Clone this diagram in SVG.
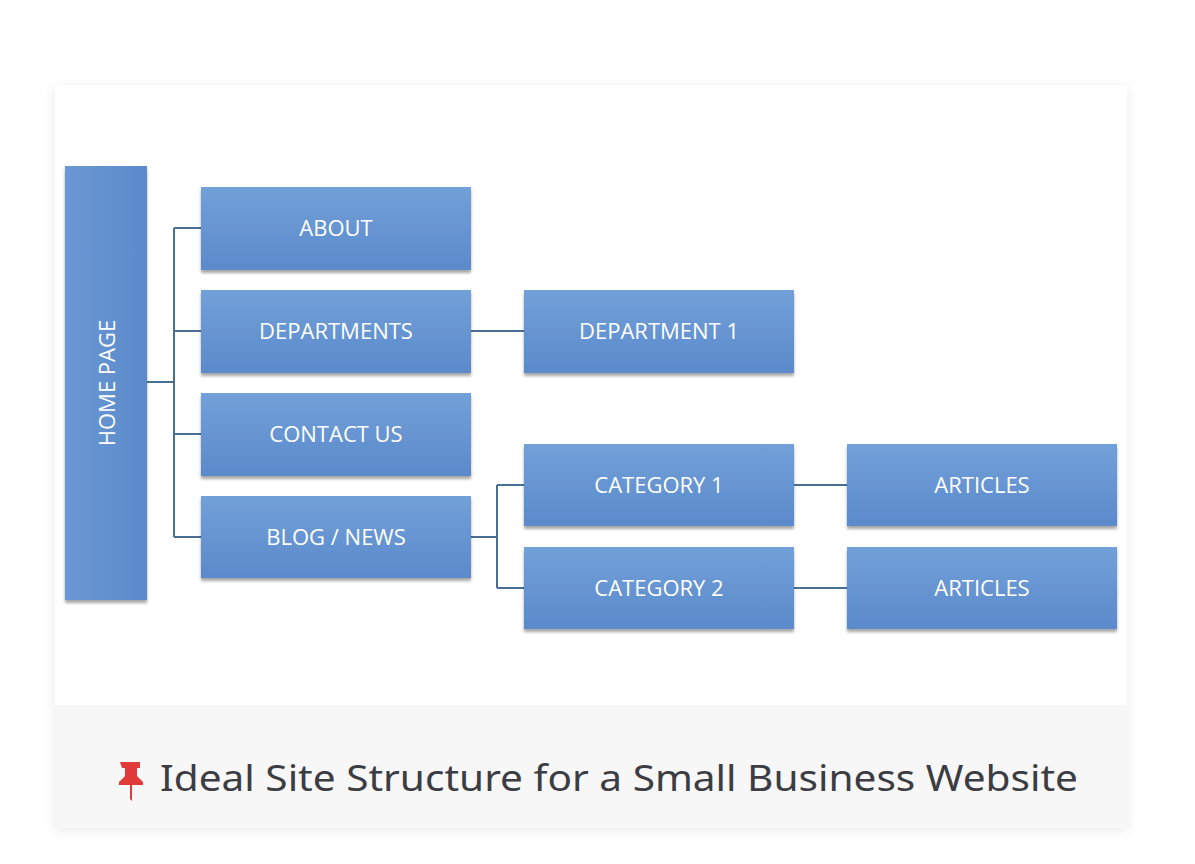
<svg xmlns="http://www.w3.org/2000/svg" width="1195" height="864" viewBox="0 0 1195 864">
<defs>
<linearGradient id="g" x1="0" y1="0" x2="0" y2="1"><stop offset="0" stop-color="#72a0d8"/><stop offset="1" stop-color="#5b8acb"/></linearGradient>
<linearGradient id="gh" x1="0" y1="0" x2="1" y2="0"><stop offset="0" stop-color="#6b98d4"/><stop offset="1" stop-color="#5b8acb"/></linearGradient>
<filter id="sh" x="-10%" y="-10%" width="120%" height="130%"><feDropShadow dx="0" dy="3" stdDeviation="1.5" flood-color="#000" flood-opacity="0.35"/></filter>
<filter id="cs" x="-5%" y="-5%" width="110%" height="110%"><feDropShadow dx="0" dy="2" stdDeviation="6" flood-color="#000" flood-opacity="0.08"/></filter>
</defs>
<style>
.b{fill:url(#g);filter:url(#sh)}
.t{font-family:"Open Sans","Liberation Sans",sans-serif;font-size:22px;fill:#fff;text-anchor:middle;dominant-baseline:central}
.c{fill:none;stroke:#4a6f96;stroke-width:2}
</style>
<rect width="1195" height="864" fill="#fff"/>
<rect x="55" y="85" width="1072" height="743" fill="#fff" filter="url(#cs)"/>
<rect x="55" y="705" width="1072" height="123" fill="#f7f7f8"/>
<g id="connectors">
<path class="c" d="M147 382H174M174 228V537M174 228H201M174 331H201M174 434H201M174 537H201"/>
<path class="c" d="M471 331H524"/>
<path class="c" d="M471 537H497M497 485V588M497 485H524M497 588H524"/>
<path class="c" d="M794 485H847M794 588H847"/>
</g>
<g id="home"><rect class="b" x="65" y="166" width="82" height="434" style="fill:url(#gh)"/><text class="t" transform="translate(106 383) rotate(-90)">HOME PAGE</text></g>
<g id="about"><rect class="b" x="201" y="187" width="270" height="83"/><text class="t" x="336" y="227">ABOUT</text></g>
<g id="departments"><rect class="b" x="201" y="290" width="270" height="83"/><text class="t" x="336" y="330">DEPARTMENTS</text></g>
<g id="contact"><rect class="b" x="201" y="393" width="270" height="83"/><text class="t" x="336" y="433">CONTACT US</text></g>
<g id="blog"><rect class="b" x="201" y="496" width="270" height="82"/><text class="t" x="336" y="536">BLOG / NEWS</text></g>
<g id="dept1"><rect class="b" x="524" y="290" width="270" height="83"/><text class="t" x="659" y="330">DEPARTMENT 1</text></g>
<g id="cat1"><rect class="b" x="524" y="444" width="270" height="82"/><text class="t" x="659" y="484">CATEGORY 1</text></g>
<g id="cat2"><rect class="b" x="524" y="547" width="270" height="82"/><text class="t" x="659" y="587">CATEGORY 2</text></g>
<g id="art1"><rect class="b" x="847" y="444" width="270" height="82"/><text class="t" x="982" y="484">ARTICLES</text></g>
<g id="art2"><rect class="b" x="847" y="547" width="270" height="82"/><text class="t" x="982" y="587">ARTICLES</text></g>
<g id="caption">
<path d="M120 762h20v6h-3v8l6 6v3h-11v16l-2 -2v-14h-11v-3l6-6v-8h-3z" fill="#e03a3a"/>
<text x="160" y="791" font-family="'Noto Sans',Lato,'Liberation Sans',sans-serif" font-size="37" fill="#3c3d43" textLength="918" lengthAdjust="spacingAndGlyphs">Ideal Site Structure for a Small Business Website</text>
</g>
</svg>
